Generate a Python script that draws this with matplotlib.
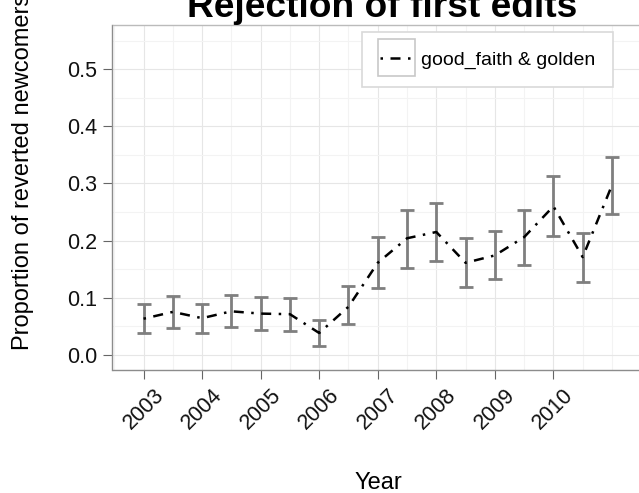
import numpy as np
import matplotlib
matplotlib.use("Agg")
import matplotlib.pyplot as plt
from matplotlib.patches import Rectangle

plt.rcParams['font.family'] = ['Liberation Sans', 'DejaVu Sans']

# data (half-year steps)
years = [2003.0, 2003.5, 2004.0, 2004.5, 2005.0, 2005.5, 2006.0, 2006.5,
         2007.0, 2007.5, 2008.0, 2008.5, 2009.0, 2009.5, 2010.0, 2010.5, 2011.0]
prop = [0.063, 0.075, 0.064, 0.076, 0.072, 0.071, 0.038, 0.084,
        0.161, 0.204, 0.215, 0.161, 0.174, 0.206, 0.260, 0.171, 0.297]
lower = [0.038, 0.047, 0.038, 0.048, 0.043, 0.042, 0.016, 0.053,
         0.117, 0.152, 0.164, 0.119, 0.132, 0.158, 0.208, 0.127, 0.247]
upper = [0.088, 0.103, 0.089, 0.105, 0.101, 0.099, 0.060, 0.120,
         0.206, 0.253, 0.266, 0.205, 0.217, 0.253, 0.313, 0.214, 0.347]
year_ticks = [2003, 2004, 2005, 2006, 2007, 2008, 2009, 2010]
y_ticks = [0.0, 0.1, 0.2, 0.3, 0.4, 0.5]
series_label = "good_faith & golden"

W, H = 639, 493
fig = plt.figure(figsize=(W / 100, H / 100), dpi=100)
ax = fig.add_axes([112.5 / W, 1 - 369.7 / H, (643 - 112.5) / W, (369.7 - 25) / H])

# grid
minor_x = [x for x in np.arange(2002.5, 2012.0, 0.5) if x not in year_ticks]
for x in minor_x:
    ax.axvline(x, color='#F3F3F3', lw=0.8, zorder=0)
for x in year_ticks:
    ax.axvline(x, color='#E6E6E6', lw=0.8, zorder=0)
for y in np.arange(0.05, 0.6, 0.1):
    ax.axhline(y, color='#F3F3F3', lw=0.8, zorder=0)
for y in y_ticks:
    ax.axhline(y, color='#E6E6E6', lw=0.8, zorder=0)

p = np.array(prop)
yerr = [p - np.array(lower), np.array(upper) - p]
ax.errorbar(years, prop, yerr=yerr, fmt='none', ecolor='#7F7F7F',
            elinewidth=2.0, capsize=4.7, capthick=2.0, zorder=2)
ax.plot(years, prop, color='black', lw=1.8, dashes=(1, 3, 4, 3),
        label=series_label, zorder=3)

ax.set_xlim(2002.47, 2011.53)
ax.set_ylim(-0.0263, 0.5777)
ax.set_xticks(year_ticks)
ax.set_xticklabels([str(y) for y in year_ticks], rotation=45, ha='center')
ax.set_yticks(y_ticks)
ax.set_yticklabels(['%.1f' % y for y in y_ticks])
ax.tick_params(axis='both', length=6.5, width=0.8, color='#666666',
               labelsize=15.5, labelcolor='#111111', pad=4.5)

for s in ['left', 'bottom']:
    ax.spines[s].set_color('#8C8C8C')
    ax.spines[s].set_linewidth(1.0)
for s in ['top', 'right']:
    ax.spines[s].set_color('#BBBBBB')
    ax.spines[s].set_linewidth(1.0)

fig.text(382 / W, 1 - 16.7 / H, 'Rejection of first edits', ha='center',
         va='baseline', fontsize=26.7, fontweight='bold')
fig.text(378 / W, 1 - 489 / H, 'Year', ha='center', va='baseline', fontsize=17)
fig.text(23 / W, 1 - 172 / H, 'Proportion of reverted newcomers', rotation=90,
         ha='center', va='center', fontsize=17)

leg = ax.legend(loc='upper left', bbox_to_anchor=(361.7 / W, 1 - 32.3 / H),
                bbox_transform=fig.transFigure, borderaxespad=0, fontsize=14,
                handlelength=1.63, handletextpad=0.45, borderpad=0.95,
                fancybox=False, framealpha=1, edgecolor='#D9D9D9')
leg.get_frame().set_linewidth(1.2)

fig.canvas.draw()
r = fig.canvas.get_renderer()
lb = leg.get_lines()[0].get_window_extent(r)
cx, cy = (lb.x0 + lb.x1) / 2, (lb.y0 + lb.y1) / 2
fig.patches.append(Rectangle(((cx - 18.5) / W, (cy - 18.5) / H), 37 / W, 37 / H,
                             transform=fig.transFigure, fill=False,
                             edgecolor='#C8C8C8', lw=1.2, zorder=6))

fig.savefig('out.png', dpi=100)
